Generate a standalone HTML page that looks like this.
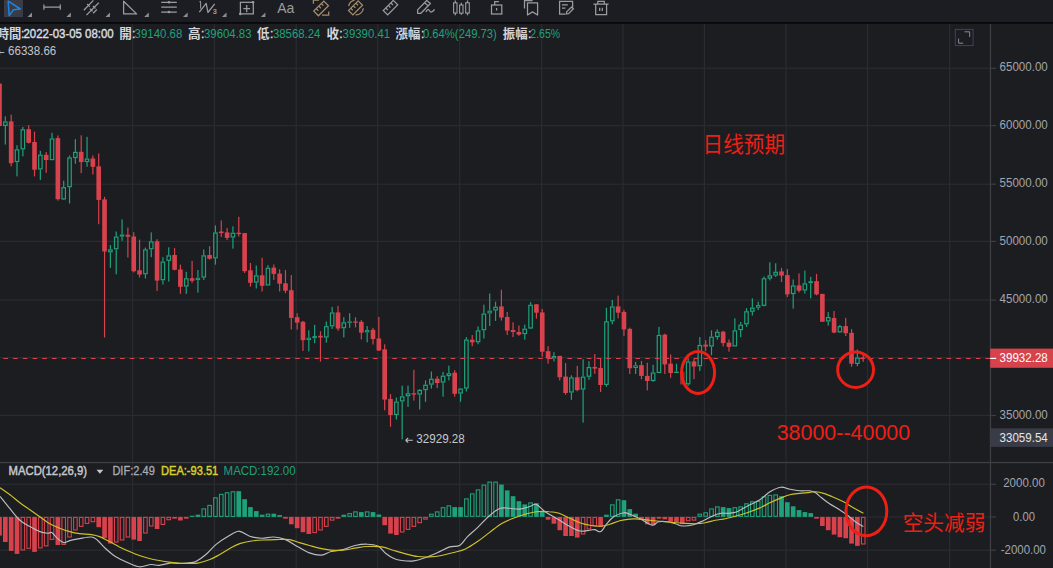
<!DOCTYPE html>
<html><head><meta charset="utf-8"><title>chart</title><style>html,body{margin:0;padding:0;background:#1b1d21;width:1053px;height:568px;overflow:hidden}</style></head><body><svg width="1053" height="568" viewBox="0 0 1053 568" style="display:block;font-family:'Liberation Sans',sans-serif">
<rect width="1053" height="568" fill="#1b1d21"/>
<rect x="132.00" y="24" width="1.2" height="544" fill="#2a2c31"/>
<rect x="213.80" y="24" width="1.2" height="544" fill="#2a2c31"/>
<rect x="295.60" y="24" width="1.2" height="544" fill="#2a2c31"/>
<rect x="377.10" y="24" width="1.2" height="544" fill="#2a2c31"/>
<rect x="459.10" y="24" width="1.2" height="544" fill="#2a2c31"/>
<rect x="541.10" y="24" width="1.2" height="544" fill="#2a2c31"/>
<rect x="622.30" y="24" width="1.2" height="544" fill="#2a2c31"/>
<rect x="703.80" y="24" width="1.2" height="544" fill="#2a2c31"/>
<rect x="785.50" y="24" width="1.2" height="544" fill="#2a2c31"/>
<rect x="866.90" y="24" width="1.2" height="544" fill="#2a2c31"/>
<rect x="949.10" y="24" width="1.2" height="544" fill="#2a2c31"/>
<rect x="0" y="67.70" width="990.5" height="1.2" fill="#2a2c31"/>
<rect x="990.5" y="67.70" width="5.5" height="1.2" fill="#3d3f46"/>
<rect x="0" y="125.10" width="990.5" height="1.2" fill="#2a2c31"/>
<rect x="990.5" y="125.10" width="5.5" height="1.2" fill="#3d3f46"/>
<rect x="0" y="183.60" width="990.5" height="1.2" fill="#2a2c31"/>
<rect x="990.5" y="183.60" width="5.5" height="1.2" fill="#3d3f46"/>
<rect x="0" y="240.80" width="990.5" height="1.2" fill="#2a2c31"/>
<rect x="990.5" y="240.80" width="5.5" height="1.2" fill="#3d3f46"/>
<rect x="0" y="299.50" width="990.5" height="1.2" fill="#2a2c31"/>
<rect x="990.5" y="299.50" width="5.5" height="1.2" fill="#3d3f46"/>
<rect x="0" y="357.00" width="990.5" height="1.2" fill="#2a2c31"/>
<rect x="990.5" y="357.00" width="5.5" height="1.2" fill="#3d3f46"/>
<rect x="0" y="414.90" width="990.5" height="1.2" fill="#2a2c31"/>
<rect x="990.5" y="414.90" width="5.5" height="1.2" fill="#3d3f46"/>
<rect x="0" y="483.70" width="990.5" height="1.2" fill="#2a2c31"/>
<rect x="990.5" y="483.70" width="5.5" height="1.2" fill="#3d3f46"/>
<rect x="0" y="516.40" width="990.5" height="1.2" fill="#2a2c31"/>
<rect x="990.5" y="516.40" width="5.5" height="1.2" fill="#3d3f46"/>
<rect x="0" y="549.60" width="990.5" height="1.2" fill="#2a2c31"/>
<rect x="990.5" y="549.60" width="5.5" height="1.2" fill="#3d3f46"/>
<rect x="989.8" y="24" width="1.3" height="544" fill="#3d3f46"/>
<rect x="0" y="461.9" width="1053" height="1.3" fill="#3d3f46"/>
<g id="candles">
<g fill="#d7424d"><rect x="-1.10" y="83.6" width="1.2" height="42.4"/><rect x="-2.83" y="83.6" width="4.65" height="42.4"/></g>
<rect x="4.74" y="116.4" width="1.2" height="5.0" fill="#1fa27c"/><rect x="4.74" y="126.0" width="1.2" height="18.6" fill="#1fa27c"/><rect x="3.61" y="122.0" width="3.45" height="3.4" fill="none" stroke="#1fa27c" stroke-width="1.2"/>
<g fill="#d7424d"><rect x="10.57" y="114.7" width="1.2" height="51.7"/><rect x="8.85" y="121.4" width="4.65" height="41.8"/></g>
<rect x="16.41" y="145.2" width="1.2" height="4.1" fill="#1fa27c"/><rect x="16.41" y="162.1" width="1.2" height="14.3" fill="#1fa27c"/><rect x="15.28" y="149.9" width="3.45" height="11.6" fill="none" stroke="#1fa27c" stroke-width="1.2"/>
<rect x="22.24" y="127.0" width="1.2" height="2.2" fill="#1fa27c"/><rect x="22.24" y="149.4" width="1.2" height="7.0" fill="#1fa27c"/><rect x="21.12" y="129.8" width="3.45" height="19.0" fill="none" stroke="#1fa27c" stroke-width="1.2"/>
<g fill="#d7424d"><rect x="28.08" y="125.2" width="1.2" height="18.3"/><rect x="26.36" y="129.2" width="4.65" height="13.6"/></g>
<g fill="#d7424d"><rect x="33.92" y="131.6" width="1.2" height="44.8"/><rect x="32.19" y="142.0" width="4.65" height="27.7"/></g>
<rect x="39.75" y="150.8" width="1.2" height="3.8" fill="#1fa27c"/><rect x="39.75" y="169.5" width="1.2" height="10.4" fill="#1fa27c"/><rect x="38.63" y="155.2" width="3.45" height="13.7" fill="none" stroke="#1fa27c" stroke-width="1.2"/>
<g fill="#d7424d"><rect x="45.59" y="152.0" width="1.2" height="20.8"/><rect x="43.86" y="154.8" width="4.65" height="5.2"/></g>
<rect x="51.42" y="132.8" width="1.2" height="5.6" fill="#1fa27c"/><rect x="50.30" y="139.0" width="3.45" height="20.6" fill="none" stroke="#1fa27c" stroke-width="1.2"/>
<g fill="#d7424d"><rect x="57.26" y="135.5" width="1.2" height="65.1"/><rect x="55.53" y="138.1" width="4.65" height="61.1"/></g>
<rect x="63.10" y="180.6" width="1.2" height="6.5" fill="#1fa27c"/><rect x="63.10" y="199.5" width="1.2" height="0.5" fill="#1fa27c"/><rect x="61.97" y="187.7" width="3.45" height="11.2" fill="none" stroke="#1fa27c" stroke-width="1.2"/>
<rect x="68.93" y="155.5" width="1.2" height="1.9" fill="#1fa27c"/><rect x="68.93" y="187.3" width="1.2" height="16.2" fill="#1fa27c"/><rect x="67.81" y="158.0" width="3.45" height="28.7" fill="none" stroke="#1fa27c" stroke-width="1.2"/>
<rect x="74.77" y="139.2" width="1.2" height="12.6" fill="#1fa27c"/><rect x="74.77" y="158.1" width="1.2" height="5.7" fill="#1fa27c"/><rect x="73.64" y="152.4" width="3.45" height="5.1" fill="none" stroke="#1fa27c" stroke-width="1.2"/>
<g fill="#d7424d"><rect x="80.60" y="135.3" width="1.2" height="37.9"/><rect x="78.88" y="151.8" width="4.65" height="10.3"/></g>
<rect x="86.44" y="136.8" width="1.2" height="21.7" fill="#1fa27c"/><rect x="86.44" y="162.1" width="1.2" height="4.7" fill="#1fa27c"/><rect x="85.31" y="159.1" width="3.45" height="2.4" fill="none" stroke="#1fa27c" stroke-width="1.2"/>
<g fill="#d7424d"><rect x="92.28" y="155.5" width="1.2" height="19.0"/><rect x="90.55" y="158.5" width="4.65" height="8.3"/></g>
<g fill="#d7424d"><rect x="98.11" y="153.4" width="1.2" height="70.8"/><rect x="96.39" y="166.4" width="4.65" height="33.5"/></g>
<g fill="#d7424d"><rect x="103.95" y="196.8" width="1.2" height="140.7"/><rect x="102.22" y="199.4" width="4.65" height="52.1"/></g>
<rect x="109.78" y="245.0" width="1.2" height="4.3" fill="#1fa27c"/><rect x="109.78" y="252.4" width="1.2" height="15.4" fill="#1fa27c"/><rect x="108.66" y="249.9" width="3.45" height="1.9" fill="none" stroke="#1fa27c" stroke-width="1.2"/>
<rect x="115.62" y="231.5" width="1.2" height="5.0" fill="#1fa27c"/><rect x="115.62" y="249.3" width="1.2" height="25.0" fill="#1fa27c"/><rect x="114.49" y="237.1" width="3.45" height="11.6" fill="none" stroke="#1fa27c" stroke-width="1.2"/>
<rect x="121.46" y="219.4" width="1.2" height="15.0" fill="#1fa27c"/><rect x="121.46" y="236.7" width="1.2" height="4.1" fill="#1fa27c"/><rect x="120.33" y="235.0" width="3.45" height="1.1" fill="none" stroke="#1fa27c" stroke-width="1.0"/>
<g fill="#d7424d"><rect x="127.29" y="227.6" width="1.2" height="29.9"/><rect x="125.57" y="234.8" width="4.65" height="1.9"/></g>
<g fill="#d7424d"><rect x="133.13" y="232.2" width="1.2" height="40.2"/><rect x="131.40" y="236.5" width="4.65" height="34.7"/></g>
<g fill="#d7424d"><rect x="138.96" y="239.6" width="1.2" height="37.9"/><rect x="137.24" y="270.3" width="4.65" height="4.3"/></g>
<rect x="144.80" y="247.6" width="1.2" height="1.7" fill="#1fa27c"/><rect x="144.80" y="274.3" width="1.2" height="4.2" fill="#1fa27c"/><rect x="143.68" y="249.9" width="3.45" height="23.8" fill="none" stroke="#1fa27c" stroke-width="1.2"/>
<rect x="150.64" y="232.4" width="1.2" height="8.9" fill="#1fa27c"/><rect x="150.64" y="249.3" width="1.2" height="7.9" fill="#1fa27c"/><rect x="149.51" y="241.9" width="3.45" height="6.8" fill="none" stroke="#1fa27c" stroke-width="1.2"/>
<g fill="#d7424d"><rect x="156.47" y="239.2" width="1.2" height="51.7"/><rect x="154.75" y="241.3" width="4.65" height="39.3"/></g>
<rect x="162.31" y="257.2" width="1.2" height="4.3" fill="#1fa27c"/><rect x="162.31" y="280.3" width="1.2" height="4.2" fill="#1fa27c"/><rect x="161.18" y="262.1" width="3.45" height="17.6" fill="none" stroke="#1fa27c" stroke-width="1.2"/>
<rect x="168.14" y="247.3" width="1.2" height="8.0" fill="#1fa27c"/><rect x="168.14" y="260.9" width="1.2" height="20.7" fill="#1fa27c"/><rect x="167.02" y="255.9" width="3.45" height="4.4" fill="none" stroke="#1fa27c" stroke-width="1.2"/>
<g fill="#d7424d"><rect x="173.98" y="248.1" width="1.2" height="22.2"/><rect x="172.26" y="255.0" width="4.65" height="14.8"/></g>
<g fill="#d7424d"><rect x="179.82" y="264.7" width="1.2" height="29.2"/><rect x="178.09" y="269.5" width="4.65" height="17.3"/></g>
<rect x="185.65" y="271.8" width="1.2" height="6.4" fill="#1fa27c"/><rect x="185.65" y="286.6" width="1.2" height="7.3" fill="#1fa27c"/><rect x="184.53" y="278.8" width="3.45" height="7.2" fill="none" stroke="#1fa27c" stroke-width="1.2"/>
<g fill="#d7424d"><rect x="191.49" y="260.9" width="1.2" height="21.9"/><rect x="189.76" y="278.2" width="4.65" height="2.6"/></g>
<rect x="197.32" y="270.0" width="1.2" height="7.6" fill="#1fa27c"/><rect x="197.32" y="280.2" width="1.2" height="12.5" fill="#1fa27c"/><rect x="196.20" y="278.2" width="3.45" height="1.4" fill="none" stroke="#1fa27c" stroke-width="1.0"/>
<rect x="203.16" y="249.5" width="1.2" height="5.8" fill="#1fa27c"/><rect x="203.16" y="277.6" width="1.2" height="2.4" fill="#1fa27c"/><rect x="202.04" y="255.9" width="3.45" height="21.1" fill="none" stroke="#1fa27c" stroke-width="1.2"/>
<g fill="#d7424d"><rect x="209.00" y="246.1" width="1.2" height="13.6"/><rect x="207.27" y="255.0" width="4.65" height="3.7"/></g>
<rect x="214.83" y="225.4" width="1.2" height="7.0" fill="#1fa27c"/><rect x="214.83" y="258.4" width="1.2" height="6.3" fill="#1fa27c"/><rect x="213.71" y="233.0" width="3.45" height="24.8" fill="none" stroke="#1fa27c" stroke-width="1.2"/>
<g fill="#d7424d"><rect x="220.67" y="220.4" width="1.2" height="16.6"/><rect x="218.94" y="231.5" width="4.65" height="1.6"/></g>
<g fill="#d7424d"><rect x="226.50" y="227.9" width="1.2" height="12.2"/><rect x="224.78" y="232.4" width="4.65" height="5.5"/></g>
<rect x="232.34" y="226.4" width="1.2" height="6.3" fill="#1fa27c"/><rect x="232.34" y="237.5" width="1.2" height="11.1" fill="#1fa27c"/><rect x="231.22" y="233.3" width="3.45" height="3.6" fill="none" stroke="#1fa27c" stroke-width="1.2"/>
<g fill="#d7424d"><rect x="238.18" y="216.8" width="1.2" height="19.7"/><rect x="236.45" y="232.7" width="4.65" height="1.4"/></g>
<g fill="#d7424d"><rect x="244.01" y="232.9" width="1.2" height="40.0"/><rect x="242.29" y="233.1" width="4.65" height="38.1"/></g>
<g fill="#d7424d"><rect x="249.85" y="263.0" width="1.2" height="23.6"/><rect x="248.12" y="270.3" width="4.65" height="12.5"/></g>
<rect x="255.68" y="265.5" width="1.2" height="9.8" fill="#1fa27c"/><rect x="255.68" y="282.6" width="1.2" height="5.9" fill="#1fa27c"/><rect x="254.56" y="275.9" width="3.45" height="6.1" fill="none" stroke="#1fa27c" stroke-width="1.2"/>
<g fill="#d7424d"><rect x="261.52" y="257.8" width="1.2" height="33.7"/><rect x="259.80" y="275.3" width="4.65" height="10.5"/></g>
<rect x="267.36" y="265.1" width="1.2" height="2.6" fill="#1fa27c"/><rect x="266.23" y="268.3" width="3.45" height="16.6" fill="none" stroke="#1fa27c" stroke-width="1.2"/>
<g fill="#d7424d"><rect x="273.19" y="264.5" width="1.2" height="15.4"/><rect x="271.47" y="267.6" width="4.65" height="6.3"/></g>
<g fill="#d7424d"><rect x="279.03" y="269.3" width="1.2" height="22.2"/><rect x="277.30" y="273.6" width="4.65" height="10.1"/></g>
<g fill="#d7424d"><rect x="284.86" y="270.0" width="1.2" height="23.2"/><rect x="283.14" y="283.3" width="4.65" height="7.4"/></g>
<g fill="#d7424d"><rect x="290.70" y="275.1" width="1.2" height="54.4"/><rect x="288.98" y="290.2" width="4.65" height="27.7"/></g>
<g fill="#d7424d"><rect x="296.54" y="313.2" width="1.2" height="16.3"/><rect x="294.81" y="317.2" width="4.65" height="5.4"/></g>
<g fill="#d7424d"><rect x="302.37" y="320.9" width="1.2" height="30.0"/><rect x="300.65" y="321.8" width="4.65" height="18.4"/></g>
<rect x="308.21" y="330.3" width="1.2" height="7.3" fill="#1fa27c"/><rect x="308.21" y="340.2" width="1.2" height="11.2" fill="#1fa27c"/><rect x="307.08" y="338.2" width="3.45" height="1.4" fill="none" stroke="#1fa27c" stroke-width="1.0"/>
<rect x="314.04" y="324.9" width="1.2" height="11.1" fill="#1fa27c"/><rect x="314.04" y="338.3" width="1.2" height="5.0" fill="#1fa27c"/><rect x="312.92" y="336.6" width="3.45" height="1.1" fill="none" stroke="#1fa27c" stroke-width="1.0"/>
<g fill="#d7424d"><rect x="319.88" y="331.3" width="1.2" height="30.3"/><rect x="318.16" y="335.8" width="4.65" height="1.7"/></g>
<rect x="325.72" y="321.5" width="1.2" height="4.6" fill="#1fa27c"/><rect x="325.72" y="337.6" width="1.2" height="4.9" fill="#1fa27c"/><rect x="324.59" y="326.7" width="3.45" height="10.3" fill="none" stroke="#1fa27c" stroke-width="1.2"/>
<rect x="331.55" y="306.8" width="1.2" height="5.6" fill="#1fa27c"/><rect x="331.55" y="326.4" width="1.2" height="2.6" fill="#1fa27c"/><rect x="330.43" y="313.0" width="3.45" height="12.8" fill="none" stroke="#1fa27c" stroke-width="1.2"/>
<g fill="#d7424d"><rect x="337.39" y="305.9" width="1.2" height="24.8"/><rect x="335.66" y="312.4" width="4.65" height="16.2"/></g>
<rect x="343.22" y="317.2" width="1.2" height="5.1" fill="#1fa27c"/><rect x="343.22" y="328.3" width="1.2" height="9.1" fill="#1fa27c"/><rect x="342.10" y="322.9" width="3.45" height="4.8" fill="none" stroke="#1fa27c" stroke-width="1.2"/>
<rect x="349.06" y="313.2" width="1.2" height="8.3" fill="#1fa27c"/><rect x="349.06" y="322.6" width="1.2" height="5.2" fill="#1fa27c"/><rect x="347.34" y="321.5" width="4.65" height="1.2" fill="#1fa27c"/>
<g fill="#d7424d"><rect x="354.90" y="317.2" width="1.2" height="10.2"/><rect x="353.17" y="321.5" width="4.65" height="1.2"/></g>
<g fill="#d7424d"><rect x="360.73" y="320.1" width="1.2" height="19.3"/><rect x="359.01" y="321.8" width="4.65" height="10.8"/></g>
<rect x="366.57" y="326.1" width="1.2" height="3.9" fill="#1fa27c"/><rect x="366.57" y="332.5" width="1.2" height="9.8" fill="#1fa27c"/><rect x="365.44" y="330.6" width="3.45" height="1.3" fill="none" stroke="#1fa27c" stroke-width="1.0"/>
<g fill="#d7424d"><rect x="372.40" y="327.8" width="1.2" height="16.7"/><rect x="370.68" y="329.8" width="4.65" height="9.2"/></g>
<g fill="#d7424d"><rect x="378.24" y="317.0" width="1.2" height="34.0"/><rect x="376.52" y="338.5" width="4.65" height="12.0"/></g>
<g fill="#d7424d"><rect x="384.08" y="344.3" width="1.2" height="66.0"/><rect x="382.35" y="349.3" width="4.65" height="50.3"/></g>
<g fill="#d7424d"><rect x="389.91" y="394.1" width="1.2" height="32.7"/><rect x="388.19" y="398.9" width="4.65" height="16.1"/></g>
<rect x="395.75" y="397.5" width="1.2" height="4.0" fill="#1fa27c"/><rect x="395.75" y="415.0" width="1.2" height="4.6" fill="#1fa27c"/><rect x="394.62" y="402.1" width="3.45" height="12.3" fill="none" stroke="#1fa27c" stroke-width="1.2"/>
<rect x="401.58" y="385.6" width="1.2" height="10.7" fill="#1fa27c"/><rect x="401.58" y="401.5" width="1.2" height="37.9" fill="#1fa27c"/><rect x="400.46" y="396.9" width="3.45" height="4.0" fill="none" stroke="#1fa27c" stroke-width="1.2"/>
<rect x="407.42" y="385.6" width="1.2" height="7.6" fill="#1fa27c"/><rect x="407.42" y="396.3" width="1.2" height="10.6" fill="#1fa27c"/><rect x="406.30" y="393.8" width="3.45" height="1.9" fill="none" stroke="#1fa27c" stroke-width="1.2"/>
<g fill="#d7424d"><rect x="413.26" y="369.8" width="1.2" height="30.8"/><rect x="411.53" y="393.2" width="4.65" height="1.4"/></g>
<rect x="419.09" y="389.0" width="1.2" height="0.8" fill="#1fa27c"/><rect x="419.09" y="394.6" width="1.2" height="14.9" fill="#1fa27c"/><rect x="417.97" y="390.4" width="3.45" height="3.6" fill="none" stroke="#1fa27c" stroke-width="1.2"/>
<rect x="424.93" y="380.4" width="1.2" height="4.3" fill="#1fa27c"/><rect x="424.93" y="390.2" width="1.2" height="11.6" fill="#1fa27c"/><rect x="423.80" y="385.3" width="3.45" height="4.3" fill="none" stroke="#1fa27c" stroke-width="1.2"/>
<rect x="430.76" y="371.5" width="1.2" height="7.2" fill="#1fa27c"/><rect x="430.76" y="384.7" width="1.2" height="3.9" fill="#1fa27c"/><rect x="429.64" y="379.3" width="3.45" height="4.8" fill="none" stroke="#1fa27c" stroke-width="1.2"/>
<g fill="#d7424d"><rect x="436.60" y="376.2" width="1.2" height="11.9"/><rect x="434.88" y="378.7" width="4.65" height="4.3"/></g>
<rect x="442.44" y="371.9" width="1.2" height="3.7" fill="#1fa27c"/><rect x="442.44" y="382.6" width="1.2" height="14.1" fill="#1fa27c"/><rect x="441.31" y="376.2" width="3.45" height="5.8" fill="none" stroke="#1fa27c" stroke-width="1.2"/>
<rect x="448.27" y="365.6" width="1.2" height="7.6" fill="#1fa27c"/><rect x="448.27" y="376.2" width="1.2" height="4.2" fill="#1fa27c"/><rect x="447.15" y="373.8" width="3.45" height="1.8" fill="none" stroke="#1fa27c" stroke-width="1.2"/>
<g fill="#d7424d"><rect x="454.11" y="370.2" width="1.2" height="26.5"/><rect x="452.38" y="372.7" width="4.65" height="21.1"/></g>
<rect x="459.94" y="388.1" width="1.2" height="0.4" fill="#1fa27c"/><rect x="459.94" y="393.6" width="1.2" height="8.2" fill="#1fa27c"/><rect x="458.82" y="389.1" width="3.45" height="3.9" fill="none" stroke="#1fa27c" stroke-width="1.2"/>
<rect x="465.78" y="337.1" width="1.2" height="2.4" fill="#1fa27c"/><rect x="465.78" y="388.6" width="1.2" height="2.9" fill="#1fa27c"/><rect x="464.66" y="340.1" width="3.45" height="47.9" fill="none" stroke="#1fa27c" stroke-width="1.2"/>
<g fill="#d7424d"><rect x="471.62" y="335.0" width="1.2" height="11.2"/><rect x="469.89" y="339.7" width="4.65" height="2.7"/></g>
<rect x="477.45" y="326.5" width="1.2" height="3.8" fill="#1fa27c"/><rect x="477.45" y="342.3" width="1.2" height="2.0" fill="#1fa27c"/><rect x="476.33" y="330.9" width="3.45" height="10.8" fill="none" stroke="#1fa27c" stroke-width="1.2"/>
<rect x="483.29" y="304.7" width="1.2" height="8.8" fill="#1fa27c"/><rect x="483.29" y="330.3" width="1.2" height="8.2" fill="#1fa27c"/><rect x="482.16" y="314.1" width="3.45" height="15.6" fill="none" stroke="#1fa27c" stroke-width="1.2"/>
<rect x="489.12" y="293.5" width="1.2" height="17.1" fill="#1fa27c"/><rect x="489.12" y="313.5" width="1.2" height="12.5" fill="#1fa27c"/><rect x="488.00" y="311.2" width="3.45" height="1.7" fill="none" stroke="#1fa27c" stroke-width="1.0"/>
<rect x="494.96" y="301.6" width="1.2" height="5.1" fill="#1fa27c"/><rect x="494.96" y="310.6" width="1.2" height="10.3" fill="#1fa27c"/><rect x="493.84" y="307.3" width="3.45" height="2.7" fill="none" stroke="#1fa27c" stroke-width="1.2"/>
<g fill="#d7424d"><rect x="500.80" y="289.8" width="1.2" height="30.8"/><rect x="499.07" y="306.4" width="4.65" height="11.1"/></g>
<g fill="#d7424d"><rect x="506.63" y="312.0" width="1.2" height="22.9"/><rect x="504.91" y="317.0" width="4.65" height="13.6"/></g>
<g fill="#d7424d"><rect x="512.47" y="322.3" width="1.2" height="14.8"/><rect x="510.74" y="330.0" width="4.65" height="2.0"/></g>
<g fill="#d7424d"><rect x="518.30" y="325.5" width="1.2" height="10.3"/><rect x="516.58" y="332.0" width="4.65" height="2.6"/></g>
<rect x="524.14" y="324.7" width="1.2" height="3.9" fill="#1fa27c"/><rect x="524.14" y="334.2" width="1.2" height="5.5" fill="#1fa27c"/><rect x="523.01" y="329.2" width="3.45" height="4.4" fill="none" stroke="#1fa27c" stroke-width="1.2"/>
<rect x="529.98" y="302.1" width="1.2" height="2.6" fill="#1fa27c"/><rect x="529.98" y="328.6" width="1.2" height="0.4" fill="#1fa27c"/><rect x="528.85" y="305.3" width="3.45" height="22.7" fill="none" stroke="#1fa27c" stroke-width="1.2"/>
<g fill="#d7424d"><rect x="535.81" y="304.3" width="1.2" height="14.4"/><rect x="534.09" y="304.3" width="4.65" height="8.4"/></g>
<g fill="#d7424d"><rect x="541.65" y="308.9" width="1.2" height="47.9"/><rect x="539.92" y="312.4" width="4.65" height="39.3"/></g>
<g fill="#d7424d"><rect x="547.48" y="346.2" width="1.2" height="17.4"/><rect x="545.76" y="351.2" width="4.65" height="7.3"/></g>
<rect x="553.32" y="352.2" width="1.2" height="3.7" fill="#1fa27c"/><rect x="553.32" y="358.5" width="1.2" height="2.9" fill="#1fa27c"/><rect x="552.20" y="356.5" width="3.45" height="1.4" fill="none" stroke="#1fa27c" stroke-width="1.0"/>
<g fill="#d7424d"><rect x="559.16" y="355.9" width="1.2" height="24.5"/><rect x="557.43" y="355.9" width="4.65" height="21.3"/></g>
<g fill="#d7424d"><rect x="564.99" y="363.1" width="1.2" height="31.6"/><rect x="563.27" y="376.6" width="4.65" height="16.4"/></g>
<rect x="570.83" y="375.3" width="1.2" height="2.0" fill="#1fa27c"/><rect x="570.83" y="392.6" width="1.2" height="7.2" fill="#1fa27c"/><rect x="569.70" y="377.9" width="3.45" height="14.1" fill="none" stroke="#1fa27c" stroke-width="1.2"/>
<g fill="#d7424d"><rect x="576.66" y="365.8" width="1.2" height="25.5"/><rect x="574.94" y="377.3" width="4.65" height="12.8"/></g>
<rect x="582.50" y="359.2" width="1.2" height="17.4" fill="#1fa27c"/><rect x="582.50" y="389.6" width="1.2" height="33.0" fill="#1fa27c"/><rect x="581.38" y="377.2" width="3.45" height="11.8" fill="none" stroke="#1fa27c" stroke-width="1.2"/>
<rect x="588.34" y="361.2" width="1.2" height="5.8" fill="#1fa27c"/><rect x="588.34" y="376.8" width="1.2" height="3.1" fill="#1fa27c"/><rect x="587.21" y="367.6" width="3.45" height="8.6" fill="none" stroke="#1fa27c" stroke-width="1.2"/>
<g fill="#d7424d"><rect x="594.17" y="354.0" width="1.2" height="19.8"/><rect x="592.45" y="367.0" width="4.65" height="1.6"/></g>
<g fill="#d7424d"><rect x="600.01" y="358.2" width="1.2" height="33.9"/><rect x="598.28" y="367.9" width="4.65" height="17.1"/></g>
<rect x="605.84" y="307.7" width="1.2" height="13.5" fill="#1fa27c"/><rect x="605.84" y="385.0" width="1.2" height="1.7" fill="#1fa27c"/><rect x="604.72" y="321.8" width="3.45" height="62.6" fill="none" stroke="#1fa27c" stroke-width="1.2"/>
<rect x="611.68" y="300.0" width="1.2" height="6.4" fill="#1fa27c"/><rect x="611.68" y="321.4" width="1.2" height="2.9" fill="#1fa27c"/><rect x="610.56" y="307.0" width="3.45" height="13.8" fill="none" stroke="#1fa27c" stroke-width="1.2"/>
<g fill="#d7424d"><rect x="617.52" y="295.6" width="1.2" height="22.7"/><rect x="615.79" y="306.4" width="4.65" height="6.3"/></g>
<g fill="#d7424d"><rect x="623.35" y="309.8" width="1.2" height="26.1"/><rect x="621.63" y="312.0" width="4.65" height="17.4"/></g>
<g fill="#d7424d"><rect x="629.19" y="327.7" width="1.2" height="46.3"/><rect x="627.46" y="328.9" width="4.65" height="39.3"/></g>
<rect x="635.02" y="361.9" width="1.2" height="3.3" fill="#1fa27c"/><rect x="635.02" y="368.1" width="1.2" height="5.9" fill="#1fa27c"/><rect x="633.90" y="365.8" width="3.45" height="1.7" fill="none" stroke="#1fa27c" stroke-width="1.0"/>
<g fill="#d7424d"><rect x="640.86" y="360.9" width="1.2" height="18.4"/><rect x="639.13" y="365.1" width="4.65" height="10.8"/></g>
<g fill="#d7424d"><rect x="646.70" y="362.7" width="1.2" height="27.7"/><rect x="644.97" y="375.9" width="4.65" height="5.1"/></g>
<rect x="652.53" y="364.8" width="1.2" height="7.7" fill="#1fa27c"/><rect x="652.53" y="381.0" width="1.2" height="0.8" fill="#1fa27c"/><rect x="651.41" y="373.1" width="3.45" height="7.3" fill="none" stroke="#1fa27c" stroke-width="1.2"/>
<rect x="658.37" y="326.9" width="1.2" height="8.0" fill="#1fa27c"/><rect x="658.37" y="373.0" width="1.2" height="0.3" fill="#1fa27c"/><rect x="657.24" y="335.5" width="3.45" height="36.9" fill="none" stroke="#1fa27c" stroke-width="1.2"/>
<g fill="#d7424d"><rect x="664.20" y="333.7" width="1.2" height="40.3"/><rect x="662.48" y="334.6" width="4.65" height="29.8"/></g>
<g fill="#d7424d"><rect x="670.04" y="354.5" width="1.2" height="23.3"/><rect x="668.31" y="363.7" width="4.65" height="9.3"/></g>
<rect x="675.88" y="363.7" width="1.2" height="8.0" fill="#1fa27c"/><rect x="674.15" y="371.7" width="4.65" height="1.3" fill="#1fa27c"/>
<g fill="#d7424d" opacity="0.55"><rect x="681.71" y="371.6" width="1.2" height="12.8"/><rect x="679.99" y="371.6" width="4.65" height="12.8"/></g>
<rect x="687.55" y="359.0" width="1.2" height="2.4" fill="#1fa27c"/><rect x="687.55" y="384.4" width="1.2" height="1.4" fill="#1fa27c"/><rect x="686.42" y="362.0" width="3.45" height="21.8" fill="none" stroke="#1fa27c" stroke-width="1.2"/>
<g fill="#d7424d"><rect x="693.38" y="359.0" width="1.2" height="20.2"/><rect x="691.66" y="361.4" width="4.65" height="5.1"/></g>
<rect x="699.22" y="337.1" width="1.2" height="7.8" fill="#1fa27c"/><rect x="699.22" y="366.3" width="1.2" height="4.7" fill="#1fa27c"/><rect x="698.10" y="345.5" width="3.45" height="20.2" fill="none" stroke="#1fa27c" stroke-width="1.2"/>
<g fill="#d7424d"><rect x="705.06" y="340.2" width="1.2" height="11.0"/><rect x="703.33" y="344.6" width="4.65" height="2.0"/></g>
<rect x="710.89" y="330.3" width="1.2" height="6.3" fill="#1fa27c"/><rect x="710.89" y="346.6" width="1.2" height="8.6" fill="#1fa27c"/><rect x="709.77" y="337.2" width="3.45" height="8.8" fill="none" stroke="#1fa27c" stroke-width="1.2"/>
<rect x="716.73" y="329.4" width="1.2" height="2.3" fill="#1fa27c"/><rect x="716.73" y="337.1" width="1.2" height="2.6" fill="#1fa27c"/><rect x="715.60" y="332.3" width="3.45" height="4.2" fill="none" stroke="#1fa27c" stroke-width="1.2"/>
<g fill="#d7424d"><rect x="722.56" y="330.8" width="1.2" height="15.7"/><rect x="720.84" y="331.7" width="4.65" height="11.4"/></g>
<g fill="#d7424d"><rect x="728.40" y="339.4" width="1.2" height="12.3"/><rect x="726.67" y="342.6" width="4.65" height="4.3"/></g>
<rect x="734.24" y="318.3" width="1.2" height="12.0" fill="#1fa27c"/><rect x="733.11" y="330.9" width="3.45" height="15.0" fill="none" stroke="#1fa27c" stroke-width="1.2"/>
<rect x="740.07" y="322.0" width="1.2" height="2.6" fill="#1fa27c"/><rect x="740.07" y="330.2" width="1.2" height="7.0" fill="#1fa27c"/><rect x="738.95" y="325.2" width="3.45" height="4.4" fill="none" stroke="#1fa27c" stroke-width="1.2"/>
<rect x="745.91" y="308.2" width="1.2" height="3.0" fill="#1fa27c"/><rect x="745.91" y="324.4" width="1.2" height="2.5" fill="#1fa27c"/><rect x="744.78" y="311.8" width="3.45" height="12.0" fill="none" stroke="#1fa27c" stroke-width="1.2"/>
<rect x="751.74" y="298.3" width="1.2" height="9.3" fill="#1fa27c"/><rect x="751.74" y="311.8" width="1.2" height="3.8" fill="#1fa27c"/><rect x="750.62" y="308.2" width="3.45" height="3.0" fill="none" stroke="#1fa27c" stroke-width="1.2"/>
<rect x="757.58" y="301.7" width="1.2" height="3.3" fill="#1fa27c"/><rect x="757.58" y="307.8" width="1.2" height="2.2" fill="#1fa27c"/><rect x="756.46" y="305.6" width="3.45" height="1.6" fill="none" stroke="#1fa27c" stroke-width="1.0"/>
<rect x="763.42" y="276.5" width="1.2" height="1.7" fill="#1fa27c"/><rect x="763.42" y="305.9" width="1.2" height="0.5" fill="#1fa27c"/><rect x="762.29" y="278.8" width="3.45" height="26.5" fill="none" stroke="#1fa27c" stroke-width="1.2"/>
<rect x="769.25" y="262.3" width="1.2" height="13.0" fill="#1fa27c"/><rect x="769.25" y="278.7" width="1.2" height="1.7" fill="#1fa27c"/><rect x="768.13" y="275.9" width="3.45" height="2.2" fill="none" stroke="#1fa27c" stroke-width="1.2"/>
<rect x="775.09" y="263.3" width="1.2" height="8.4" fill="#1fa27c"/><rect x="775.09" y="275.6" width="1.2" height="1.4" fill="#1fa27c"/><rect x="773.96" y="272.3" width="3.45" height="2.7" fill="none" stroke="#1fa27c" stroke-width="1.2"/>
<g fill="#d7424d"><rect x="780.92" y="267.9" width="1.2" height="14.1"/><rect x="779.20" y="271.4" width="4.65" height="4.2"/></g>
<g fill="#d7424d"><rect x="786.76" y="269.1" width="1.2" height="27.9"/><rect x="785.03" y="275.1" width="4.65" height="19.3"/></g>
<rect x="792.60" y="279.4" width="1.2" height="6.0" fill="#1fa27c"/><rect x="792.60" y="294.1" width="1.2" height="14.5" fill="#1fa27c"/><rect x="791.47" y="286.0" width="3.45" height="7.5" fill="none" stroke="#1fa27c" stroke-width="1.2"/>
<g fill="#d7424d"><rect x="798.43" y="273.4" width="1.2" height="19.0"/><rect x="796.71" y="285.4" width="4.65" height="5.3"/></g>
<rect x="804.27" y="270.5" width="1.2" height="12.8" fill="#1fa27c"/><rect x="804.27" y="290.5" width="1.2" height="3.1" fill="#1fa27c"/><rect x="803.14" y="283.9" width="3.45" height="6.0" fill="none" stroke="#1fa27c" stroke-width="1.2"/>
<rect x="810.10" y="276.8" width="1.2" height="4.3" fill="#1fa27c"/><rect x="810.10" y="283.3" width="1.2" height="15.1" fill="#1fa27c"/><rect x="808.98" y="281.7" width="3.45" height="1.0" fill="none" stroke="#1fa27c" stroke-width="1.0"/>
<g fill="#d7424d"><rect x="815.94" y="273.9" width="1.2" height="21.4"/><rect x="814.22" y="281.1" width="4.65" height="13.3"/></g>
<g fill="#d7424d"><rect x="821.78" y="293.9" width="1.2" height="27.9"/><rect x="820.05" y="293.9" width="4.65" height="27.9"/></g>
<rect x="827.61" y="312.1" width="1.2" height="4.9" fill="#1fa27c"/><rect x="827.61" y="321.5" width="1.2" height="4.2" fill="#1fa27c"/><rect x="826.49" y="317.6" width="3.45" height="3.3" fill="none" stroke="#1fa27c" stroke-width="1.2"/>
<g fill="#d7424d"><rect x="833.45" y="311.0" width="1.2" height="22.2"/><rect x="831.72" y="318.0" width="4.65" height="14.6"/></g>
<rect x="839.28" y="324.9" width="1.2" height="1.2" fill="#1fa27c"/><rect x="839.28" y="332.4" width="1.2" height="0.5" fill="#1fa27c"/><rect x="838.16" y="326.7" width="3.45" height="5.1" fill="none" stroke="#1fa27c" stroke-width="1.2"/>
<g fill="#d7424d"><rect x="845.12" y="317.9" width="1.2" height="18.1"/><rect x="843.39" y="326.1" width="4.65" height="7.1"/></g>
<g fill="#d7424d"><rect x="850.96" y="329.1" width="1.2" height="37.7"/><rect x="849.23" y="332.8" width="4.65" height="30.9"/></g>
<rect x="856.79" y="349.5" width="1.2" height="8.0" fill="#1fa27c"/><rect x="856.79" y="364.0" width="1.2" height="2.2" fill="#1fa27c"/><rect x="855.67" y="358.1" width="3.45" height="5.3" fill="none" stroke="#1fa27c" stroke-width="1.2"/>
<g fill="#d7424d"><rect x="862.63" y="355.0" width="1.2" height="6.9"/><rect x="860.90" y="357.5" width="4.65" height="1.2"/></g>
</g>
<line x1="3.4" y1="358.4" x2="990" y2="358.4" stroke="#d9434e" stroke-width="1.05" stroke-dasharray="4.6 5.124"/>
<g id="macd">
<rect x="-2.83" y="516.9" width="4.65" height="18.7" fill="#d7424d"/>
<rect x="3.01" y="516.9" width="4.65" height="25.1" fill="#d7424d"/>
<rect x="8.85" y="516.9" width="4.65" height="34.0" fill="#d7424d"/>
<rect x="14.68" y="516.9" width="4.65" height="37.0" fill="#d7424d"/>
<rect x="21.07" y="517.4" width="3.55" height="32.5" fill="none" stroke="#d7424d" stroke-width="1.1"/>
<rect x="26.91" y="517.4" width="3.55" height="30.9" fill="none" stroke="#d7424d" stroke-width="1.1"/>
<rect x="32.19" y="516.9" width="4.65" height="35.0" fill="#d7424d"/>
<rect x="38.58" y="517.4" width="3.55" height="30.5" fill="none" stroke="#d7424d" stroke-width="1.1"/>
<rect x="44.41" y="517.4" width="3.55" height="28.5" fill="none" stroke="#d7424d" stroke-width="1.1"/>
<rect x="50.25" y="517.4" width="3.55" height="22.0" fill="none" stroke="#d7424d" stroke-width="1.1"/>
<rect x="55.53" y="516.9" width="4.65" height="28.1" fill="#d7424d"/>
<rect x="61.92" y="517.4" width="3.55" height="27.0" fill="none" stroke="#d7424d" stroke-width="1.1"/>
<rect x="67.76" y="517.4" width="3.55" height="19.6" fill="none" stroke="#d7424d" stroke-width="1.1"/>
<rect x="73.59" y="517.4" width="3.55" height="12.6" fill="none" stroke="#d7424d" stroke-width="1.1"/>
<rect x="79.43" y="517.4" width="3.55" height="9.0" fill="none" stroke="#d7424d" stroke-width="1.1"/>
<rect x="85.27" y="517.4" width="3.55" height="6.0" fill="none" stroke="#d7424d" stroke-width="1.1"/>
<rect x="91.10" y="517.4" width="3.55" height="4.3" fill="none" stroke="#d7424d" stroke-width="1.1"/>
<rect x="96.39" y="516.9" width="4.65" height="10.3" fill="#d7424d"/>
<rect x="102.22" y="516.9" width="4.65" height="21.3" fill="#d7424d"/>
<rect x="108.06" y="516.9" width="4.65" height="26.7" fill="#d7424d"/>
<rect x="114.44" y="517.4" width="3.55" height="24.6" fill="none" stroke="#d7424d" stroke-width="1.1"/>
<rect x="120.28" y="517.4" width="3.55" height="22.6" fill="none" stroke="#d7424d" stroke-width="1.1"/>
<rect x="126.12" y="517.4" width="3.55" height="19.6" fill="none" stroke="#d7424d" stroke-width="1.1"/>
<rect x="131.40" y="516.9" width="4.65" height="22.7" fill="#d7424d"/>
<rect x="137.24" y="516.9" width="4.65" height="24.1" fill="#d7424d"/>
<rect x="143.63" y="517.4" width="3.55" height="15.6" fill="none" stroke="#d7424d" stroke-width="1.1"/>
<rect x="149.46" y="517.4" width="3.55" height="8.6" fill="none" stroke="#d7424d" stroke-width="1.1"/>
<rect x="154.75" y="516.9" width="4.65" height="12.1" fill="#d7424d"/>
<rect x="161.13" y="517.4" width="3.55" height="7.0" fill="none" stroke="#d7424d" stroke-width="1.1"/>
<rect x="166.97" y="517.4" width="3.55" height="2.3" fill="none" stroke="#d7424d" stroke-width="1.1"/>
<rect x="172.26" y="516.9" width="4.65" height="1.8" fill="#d7424d"/>
<rect x="178.09" y="516.9" width="4.65" height="3.6" fill="#d7424d"/>
<rect x="183.93" y="516.9" width="4.65" height="1.8" fill="#d7424d"/>
<rect x="189.76" y="515.7" width="4.65" height="1.2" fill="#1fa27c"/>
<rect x="195.60" y="514.7" width="4.65" height="2.2" fill="#1fa27c"/>
<rect x="201.99" y="508.9" width="3.55" height="7.5" fill="none" stroke="#1fa27c" stroke-width="1.1"/>
<rect x="207.82" y="505.4" width="3.55" height="11.0" fill="none" stroke="#1fa27c" stroke-width="1.1"/>
<rect x="213.66" y="497.8" width="3.55" height="18.6" fill="none" stroke="#1fa27c" stroke-width="1.1"/>
<rect x="219.49" y="494.4" width="3.55" height="22.0" fill="none" stroke="#1fa27c" stroke-width="1.1"/>
<rect x="225.33" y="492.8" width="3.55" height="23.6" fill="none" stroke="#1fa27c" stroke-width="1.1"/>
<rect x="231.17" y="491.8" width="3.55" height="24.6" fill="none" stroke="#1fa27c" stroke-width="1.1"/>
<rect x="236.45" y="491.2" width="4.65" height="25.7" fill="#1fa27c"/>
<rect x="242.29" y="499.2" width="4.65" height="17.7" fill="#1fa27c"/>
<rect x="248.12" y="507.1" width="4.65" height="9.8" fill="#1fa27c"/>
<rect x="253.96" y="511.1" width="4.65" height="5.8" fill="#1fa27c"/>
<rect x="259.80" y="514.7" width="4.65" height="2.2" fill="#1fa27c"/>
<rect x="266.18" y="514.2" width="3.55" height="2.1" fill="none" stroke="#1fa27c" stroke-width="1.1"/>
<rect x="271.47" y="513.7" width="4.65" height="3.2" fill="#1fa27c"/>
<rect x="277.30" y="515.1" width="4.65" height="1.8" fill="#1fa27c"/>
<rect x="283.14" y="516.9" width="4.65" height="1.8" fill="#d7424d"/>
<rect x="288.98" y="516.9" width="4.65" height="7.4" fill="#d7424d"/>
<rect x="294.81" y="516.9" width="4.65" height="11.3" fill="#d7424d"/>
<rect x="300.65" y="516.9" width="4.65" height="15.3" fill="#d7424d"/>
<rect x="306.48" y="516.9" width="4.65" height="17.1" fill="#d7424d"/>
<rect x="312.87" y="517.4" width="3.55" height="15.2" fill="none" stroke="#d7424d" stroke-width="1.1"/>
<rect x="318.71" y="517.4" width="3.55" height="12.6" fill="none" stroke="#d7424d" stroke-width="1.1"/>
<rect x="324.54" y="517.4" width="3.55" height="9.0" fill="none" stroke="#d7424d" stroke-width="1.1"/>
<rect x="330.38" y="517.4" width="3.55" height="2.7" fill="none" stroke="#d7424d" stroke-width="1.1"/>
<rect x="335.66" y="516.9" width="4.65" height="1.8" fill="#d7424d"/>
<rect x="341.50" y="514.7" width="4.65" height="2.2" fill="#1fa27c"/>
<rect x="347.89" y="513.6" width="3.55" height="2.7" fill="none" stroke="#1fa27c" stroke-width="1.1"/>
<rect x="353.72" y="511.9" width="3.55" height="4.5" fill="none" stroke="#1fa27c" stroke-width="1.1"/>
<rect x="359.01" y="512.1" width="4.65" height="4.8" fill="#1fa27c"/>
<rect x="365.39" y="511.9" width="3.55" height="4.5" fill="none" stroke="#1fa27c" stroke-width="1.1"/>
<rect x="370.68" y="512.1" width="4.65" height="4.8" fill="#1fa27c"/>
<rect x="376.52" y="514.5" width="4.65" height="2.4" fill="#1fa27c"/>
<rect x="382.35" y="516.9" width="4.65" height="8.3" fill="#d7424d"/>
<rect x="388.19" y="516.9" width="4.65" height="16.7" fill="#d7424d"/>
<rect x="394.02" y="516.9" width="4.65" height="18.1" fill="#d7424d"/>
<rect x="400.41" y="517.4" width="3.55" height="14.6" fill="none" stroke="#d7424d" stroke-width="1.1"/>
<rect x="406.25" y="517.4" width="3.55" height="12.0" fill="none" stroke="#d7424d" stroke-width="1.1"/>
<rect x="412.08" y="517.4" width="3.55" height="9.0" fill="none" stroke="#d7424d" stroke-width="1.1"/>
<rect x="417.92" y="517.4" width="3.55" height="5.3" fill="none" stroke="#d7424d" stroke-width="1.1"/>
<rect x="423.75" y="517.4" width="3.55" height="1.7" fill="none" stroke="#d7424d" stroke-width="1.1"/>
<rect x="429.59" y="514.2" width="3.55" height="2.1" fill="none" stroke="#1fa27c" stroke-width="1.1"/>
<rect x="435.43" y="511.9" width="3.55" height="4.5" fill="none" stroke="#1fa27c" stroke-width="1.1"/>
<rect x="441.26" y="507.7" width="3.55" height="8.7" fill="none" stroke="#1fa27c" stroke-width="1.1"/>
<rect x="447.10" y="505.9" width="3.55" height="10.5" fill="none" stroke="#1fa27c" stroke-width="1.1"/>
<rect x="452.38" y="507.1" width="4.65" height="9.8" fill="#1fa27c"/>
<rect x="458.22" y="507.1" width="4.65" height="9.8" fill="#1fa27c"/>
<rect x="464.61" y="498.9" width="3.55" height="17.4" fill="none" stroke="#1fa27c" stroke-width="1.1"/>
<rect x="470.44" y="493.9" width="3.55" height="22.4" fill="none" stroke="#1fa27c" stroke-width="1.1"/>
<rect x="476.28" y="489.9" width="3.55" height="26.4" fill="none" stroke="#1fa27c" stroke-width="1.1"/>
<rect x="482.11" y="485.1" width="3.55" height="31.3" fill="none" stroke="#1fa27c" stroke-width="1.1"/>
<rect x="487.95" y="482.1" width="3.55" height="34.3" fill="none" stroke="#1fa27c" stroke-width="1.1"/>
<rect x="493.79" y="482.1" width="3.55" height="34.3" fill="none" stroke="#1fa27c" stroke-width="1.1"/>
<rect x="499.07" y="484.5" width="4.65" height="32.4" fill="#1fa27c"/>
<rect x="504.91" y="490.4" width="4.65" height="26.5" fill="#1fa27c"/>
<rect x="510.74" y="496.2" width="4.65" height="20.7" fill="#1fa27c"/>
<rect x="516.58" y="501.2" width="4.65" height="15.7" fill="#1fa27c"/>
<rect x="522.41" y="504.4" width="4.65" height="12.5" fill="#1fa27c"/>
<rect x="528.80" y="502.9" width="3.55" height="13.4" fill="none" stroke="#1fa27c" stroke-width="1.1"/>
<rect x="534.09" y="503.2" width="4.65" height="13.7" fill="#1fa27c"/>
<rect x="539.92" y="511.3" width="4.65" height="5.6" fill="#1fa27c"/>
<rect x="545.76" y="516.9" width="4.65" height="2.8" fill="#d7424d"/>
<rect x="551.60" y="516.9" width="4.65" height="6.8" fill="#d7424d"/>
<rect x="557.43" y="516.9" width="4.65" height="13.3" fill="#d7424d"/>
<rect x="563.27" y="516.9" width="4.65" height="19.1" fill="#d7424d"/>
<rect x="569.10" y="516.9" width="4.65" height="19.1" fill="#d7424d"/>
<rect x="574.94" y="516.9" width="4.65" height="20.7" fill="#d7424d"/>
<rect x="581.32" y="517.4" width="3.55" height="16.6" fill="none" stroke="#d7424d" stroke-width="1.1"/>
<rect x="587.16" y="517.4" width="3.55" height="11.6" fill="none" stroke="#d7424d" stroke-width="1.1"/>
<rect x="593.00" y="517.4" width="3.55" height="8.6" fill="none" stroke="#d7424d" stroke-width="1.1"/>
<rect x="598.28" y="516.9" width="4.65" height="10.1" fill="#d7424d"/>
<rect x="604.12" y="514.7" width="4.65" height="2.2" fill="#1fa27c"/>
<rect x="610.50" y="504.9" width="3.55" height="11.4" fill="none" stroke="#1fa27c" stroke-width="1.1"/>
<rect x="616.34" y="499.8" width="3.55" height="16.6" fill="none" stroke="#1fa27c" stroke-width="1.1"/>
<rect x="621.63" y="500.2" width="4.65" height="16.7" fill="#1fa27c"/>
<rect x="627.46" y="509.1" width="4.65" height="7.8" fill="#1fa27c"/>
<rect x="633.30" y="513.7" width="4.65" height="3.2" fill="#1fa27c"/>
<rect x="639.13" y="516.9" width="4.65" height="2.8" fill="#d7424d"/>
<rect x="644.97" y="516.9" width="4.65" height="7.4" fill="#d7424d"/>
<rect x="650.81" y="516.9" width="4.65" height="8.1" fill="#d7424d"/>
<rect x="656.64" y="516.9" width="4.65" height="1.8" fill="#d7424d"/>
<rect x="662.48" y="516.9" width="4.65" height="2.4" fill="#d7424d"/>
<rect x="668.31" y="516.9" width="4.65" height="4.8" fill="#d7424d"/>
<rect x="674.15" y="516.9" width="4.65" height="5.2" fill="#d7424d"/>
<rect x="679.99" y="516.9" width="4.65" height="7.2" fill="#d7424d"/>
<rect x="686.37" y="517.4" width="3.55" height="3.3" fill="none" stroke="#d7424d" stroke-width="1.1"/>
<rect x="692.21" y="517.4" width="3.55" height="2.7" fill="none" stroke="#d7424d" stroke-width="1.1"/>
<rect x="698.04" y="514.2" width="3.55" height="2.1" fill="none" stroke="#1fa27c" stroke-width="1.1"/>
<rect x="703.88" y="512.8" width="3.55" height="3.5" fill="none" stroke="#1fa27c" stroke-width="1.1"/>
<rect x="709.72" y="508.9" width="3.55" height="7.5" fill="none" stroke="#1fa27c" stroke-width="1.1"/>
<rect x="715.55" y="506.9" width="3.55" height="9.5" fill="none" stroke="#1fa27c" stroke-width="1.1"/>
<rect x="720.84" y="507.1" width="4.65" height="9.8" fill="#1fa27c"/>
<rect x="726.67" y="508.1" width="4.65" height="8.8" fill="#1fa27c"/>
<rect x="733.06" y="507.7" width="3.55" height="8.7" fill="none" stroke="#1fa27c" stroke-width="1.1"/>
<rect x="738.90" y="506.9" width="3.55" height="9.5" fill="none" stroke="#1fa27c" stroke-width="1.1"/>
<rect x="744.73" y="503.8" width="3.55" height="12.6" fill="none" stroke="#1fa27c" stroke-width="1.1"/>
<rect x="750.57" y="501.8" width="3.55" height="14.6" fill="none" stroke="#1fa27c" stroke-width="1.1"/>
<rect x="756.40" y="501.4" width="3.55" height="15.0" fill="none" stroke="#1fa27c" stroke-width="1.1"/>
<rect x="762.24" y="496.8" width="3.55" height="19.6" fill="none" stroke="#1fa27c" stroke-width="1.1"/>
<rect x="768.08" y="495.4" width="3.55" height="21.0" fill="none" stroke="#1fa27c" stroke-width="1.1"/>
<rect x="773.91" y="494.9" width="3.55" height="21.4" fill="none" stroke="#1fa27c" stroke-width="1.1"/>
<rect x="779.20" y="496.2" width="4.65" height="20.7" fill="#1fa27c"/>
<rect x="785.03" y="502.2" width="4.65" height="14.7" fill="#1fa27c"/>
<rect x="790.87" y="506.3" width="4.65" height="10.6" fill="#1fa27c"/>
<rect x="796.71" y="510.1" width="4.65" height="6.8" fill="#1fa27c"/>
<rect x="802.54" y="512.1" width="4.65" height="4.8" fill="#1fa27c"/>
<rect x="808.38" y="513.1" width="4.65" height="3.8" fill="#1fa27c"/>
<rect x="814.22" y="516.9" width="4.65" height="1.8" fill="#d7424d"/>
<rect x="820.05" y="516.9" width="4.65" height="9.1" fill="#d7424d"/>
<rect x="825.89" y="516.9" width="4.65" height="13.3" fill="#d7424d"/>
<rect x="831.72" y="516.9" width="4.65" height="17.7" fill="#d7424d"/>
<rect x="837.56" y="516.9" width="4.65" height="20.3" fill="#d7424d"/>
<rect x="843.39" y="516.9" width="4.65" height="21.3" fill="#d7424d"/>
<rect x="849.23" y="516.9" width="4.65" height="26.7" fill="#d7424d"/>
<rect x="855.07" y="516.9" width="4.65" height="29.0" fill="#d7424d"/>
<rect x="861.45" y="517.4" width="3.55" height="26.6" fill="none" stroke="#d7424d" stroke-width="1.1"/>
</g>
<path d="M0.0,496.4 C1.7,498.4 6.7,504.7 10.0,508.7 C13.3,512.7 16.6,517.3 19.9,520.3 C23.2,523.3 26.6,524.7 29.9,526.6 C33.2,528.5 36.8,530.5 39.8,531.6 C42.8,532.7 45.8,533.0 47.8,533.2 C49.8,533.4 50.1,531.7 51.7,532.6 C53.4,533.5 55.7,536.9 57.7,538.6 C59.7,540.3 61.7,542.3 63.7,542.6 C65.7,542.9 67.1,541.3 69.7,540.6 C72.3,539.9 76.0,539.2 79.6,538.6 C83.2,538.0 88.5,536.7 91.5,537.0 C94.5,537.3 95.2,538.3 97.5,540.2 C99.8,542.1 102.5,545.8 105.5,548.5 C108.5,551.2 111.8,554.2 115.4,556.5 C119.1,558.8 123.4,560.8 127.4,562.5 C131.4,564.2 135.3,566.5 139.3,566.8 C143.3,567.1 147.9,564.7 151.2,564.5 C154.5,564.3 155.9,565.7 159.2,565.4 C162.5,565.1 167.8,563.2 171.1,562.9 C174.4,562.6 175.8,563.6 179.1,563.5 C182.4,563.4 188.2,562.8 191.0,562.5 C193.8,562.2 193.4,562.8 195.9,561.5 C198.4,560.2 202.6,557.3 205.9,554.5 C209.2,551.7 212.2,547.6 215.8,544.6 C219.5,541.6 224.0,538.8 227.8,536.6 C231.6,534.4 235.0,531.3 238.7,531.2 C242.3,531.1 245.9,535.0 249.7,536.2 C253.5,537.4 257.6,538.1 261.6,538.2 C265.6,538.3 269.5,536.8 273.5,537.0 C277.5,537.2 281.5,538.0 285.5,539.6 C289.5,541.2 293.4,544.3 297.4,546.5 C301.4,548.7 305.4,551.5 309.4,552.9 C313.4,554.3 317.7,555.3 321.3,555.1 C324.9,554.9 327.6,552.4 331.2,551.5 C334.8,550.6 339.2,550.5 343.2,549.5 C347.2,548.5 351.1,546.4 355.1,545.5 C359.1,544.6 363.3,544.1 367.1,544.2 C370.9,544.3 374.9,544.6 378.0,546.1 C381.1,547.6 383.2,551.4 385.9,553.5 C388.5,555.6 391.2,557.3 393.9,558.5 C396.5,559.7 398.5,560.1 401.8,560.5 C405.1,560.9 409.8,561.4 413.8,560.9 C417.8,560.4 421.7,558.9 425.7,557.5 C429.7,556.1 433.7,554.3 437.7,552.5 C441.7,550.7 446.0,548.1 449.6,546.9 C453.2,545.7 456.6,547.2 459.6,545.5 C462.6,543.8 464.5,539.6 467.5,536.6 C470.5,533.6 473.9,531.1 477.5,527.6 C481.1,524.1 485.6,518.9 489.4,515.7 C493.2,512.5 497.0,509.5 500.3,508.3 C503.6,507.1 506.1,508.2 509.3,508.3 C512.5,508.4 516.0,509.4 519.3,509.1 C522.6,508.8 526.4,507.5 529.2,506.7 C532.0,505.9 533.6,503.6 536.2,504.4 C538.9,505.2 541.6,509.3 545.1,511.7 C548.6,514.1 553.0,516.2 557.1,518.7 C561.2,521.2 566.2,524.6 570.0,526.6 C573.8,528.6 576.6,530.4 579.9,531.0 C583.2,531.6 587.4,530.4 589.9,530.2 C592.4,530.0 593.0,529.4 594.8,529.6 C596.6,529.8 598.8,532.6 600.8,531.6 C602.8,530.6 604.6,526.2 606.8,523.7 C608.9,521.2 610.9,518.5 613.7,516.7 C616.5,514.9 621.0,513.1 623.7,512.7 C626.4,512.3 627.7,513.6 629.7,514.3 C631.7,515.0 633.3,515.6 635.6,516.7 C637.9,517.8 640.8,519.3 643.6,520.7 C646.4,522.1 650.0,525.0 652.5,525.2 C655.0,525.4 656.0,522.3 658.5,521.7 C661.0,521.1 664.7,521.4 667.5,521.7 C670.3,522.0 672.9,523.0 675.4,523.7 C677.9,524.4 679.4,525.8 682.4,526.0 C685.4,526.2 689.8,525.6 693.3,524.7 C696.8,523.8 700.0,522.2 703.3,520.7 C706.6,519.2 710.2,516.9 713.2,515.7 C716.2,514.5 718.5,513.7 721.2,513.3 C723.9,512.9 726.6,513.6 729.2,513.3 C731.9,513.0 734.1,512.9 737.1,511.7 C740.1,510.5 743.3,508.3 747.1,506.3 C750.9,504.3 756.1,502.2 759.9,499.8 C763.7,497.4 766.4,493.9 769.9,491.8 C773.4,489.7 777.5,487.6 780.8,487.2 C784.1,486.8 786.6,488.6 789.8,489.2 C792.9,489.8 796.4,490.5 799.7,490.8 C803.0,491.1 807.1,490.5 809.7,490.8 C812.4,491.1 813.6,491.6 815.6,492.8 C817.6,494.0 819.3,496.0 821.6,497.8 C823.9,499.6 826.6,501.8 829.6,503.8 C832.6,505.8 836.5,507.8 839.5,509.7 C842.5,511.6 844.9,513.3 847.5,515.3 C850.1,517.3 852.8,519.8 855.4,521.7 C858.0,523.6 862.1,525.8 863.4,526.6" fill="none" stroke="#bcbdc1" stroke-width="1.15" stroke-linejoin="round"/>
<path d="M0.0,487.8 C1.7,489.0 6.7,492.3 10.0,494.8 C13.3,497.3 16.6,500.3 19.9,502.8 C23.2,505.3 26.6,507.4 29.9,509.7 C33.2,512.0 36.5,514.4 39.8,516.7 C43.1,519.0 46.5,521.8 49.8,523.7 C53.1,525.6 56.4,526.9 59.7,528.2 C63.0,529.5 66.4,530.7 69.7,531.6 C73.0,532.5 76.0,533.1 79.6,533.6 C83.2,534.1 88.2,534.1 91.5,534.6 C94.8,535.1 96.5,535.4 99.5,536.6 C102.5,537.8 106.2,539.9 109.5,541.6 C112.8,543.3 116.1,545.2 119.4,546.9 C122.7,548.5 126.1,550.1 129.4,551.5 C132.7,552.9 136.0,554.3 139.3,555.5 C142.6,556.7 146.0,557.7 149.3,558.5 C152.6,559.3 155.9,559.9 159.2,560.5 C162.5,561.1 165.9,561.7 169.2,562.1 C172.5,562.5 175.8,562.9 179.1,563.1 C182.4,563.3 186.0,563.3 189.1,563.3 C192.2,563.3 194.4,563.7 197.9,563.1 C201.4,562.5 206.2,560.9 209.9,559.5 C213.6,558.1 216.5,556.3 219.8,554.5 C223.1,552.7 226.5,550.3 229.8,548.5 C233.1,546.7 236.1,544.9 239.7,543.6 C243.3,542.4 247.6,541.6 251.6,541.0 C255.6,540.4 259.6,540.2 263.6,540.0 C267.6,539.8 271.2,539.7 275.5,539.6 C279.8,539.5 285.5,539.1 289.5,539.6 C293.5,540.1 296.1,541.6 299.4,542.6 C302.7,543.6 306.1,544.6 309.4,545.5 C312.7,546.4 315.7,547.3 319.3,548.1 C322.9,548.9 327.2,549.8 331.2,550.1 C335.2,550.4 339.2,550.4 343.2,550.1 C347.2,549.8 351.1,548.7 355.1,548.1 C359.1,547.5 362.6,546.7 367.1,546.5 C371.6,546.3 377.4,546.2 381.9,546.9 C386.4,547.6 389.9,549.3 393.9,550.5 C397.9,551.7 401.8,552.9 405.8,553.9 C409.8,554.9 413.8,556.0 417.8,556.5 C421.8,557.0 425.7,557.1 429.7,556.9 C433.7,556.7 437.6,556.2 441.6,555.5 C445.6,554.8 449.6,553.6 453.6,552.5 C457.6,551.4 461.5,550.7 465.5,548.9 C469.5,547.1 473.5,544.3 477.5,541.6 C481.5,538.9 485.4,535.6 489.4,532.6 C493.4,529.6 497.3,526.1 501.3,523.7 C505.3,521.3 509.3,519.9 513.3,518.3 C517.3,516.7 521.4,515.4 525.2,514.3 C529.0,513.2 532.2,512.1 536.2,511.7 C540.2,511.3 545.3,511.4 549.1,511.7 C552.9,511.9 555.6,512.1 559.1,513.2 C562.6,514.3 566.5,516.7 570.0,518.3 C573.5,519.9 576.6,521.6 579.9,522.7 C583.2,523.9 586.4,524.6 589.9,525.2 C593.4,525.8 597.5,526.4 600.8,526.2 C604.1,526.1 606.6,525.2 609.8,524.3 C612.9,523.4 616.4,521.6 619.7,520.7 C623.0,519.8 626.4,519.4 629.7,519.1 C633.0,518.8 636.3,518.9 639.6,519.1 C642.9,519.3 646.3,519.9 649.6,520.3 C652.9,520.7 655.9,521.0 659.5,521.3 C663.1,521.6 667.4,522.0 671.4,522.3 C675.4,522.6 679.4,523.1 683.4,523.3 C687.4,523.5 691.6,523.8 695.3,523.7 C698.9,523.6 702.0,523.3 705.3,522.7 C708.6,522.1 711.9,521.0 715.2,520.3 C718.5,519.6 721.9,519.4 725.2,518.7 C728.5,518.0 731.5,517.3 735.1,516.3 C738.8,515.3 743.0,514.1 747.1,512.7 C751.2,511.3 756.1,509.5 759.9,507.9 C763.7,506.2 766.6,504.4 769.9,502.8 C773.2,501.2 776.5,499.7 779.8,498.4 C783.1,497.1 786.5,495.6 789.8,494.8 C793.1,494.0 796.4,493.8 799.7,493.4 C803.0,493.0 807.1,492.7 809.7,492.4 C812.4,492.1 813.3,491.6 815.6,491.8 C817.9,492.0 820.6,492.5 823.6,493.4 C826.6,494.3 830.2,495.8 833.5,497.2 C836.8,498.6 840.2,500.1 843.5,501.8 C846.8,503.6 850.1,505.8 853.4,507.7 C856.7,509.6 861.7,512.4 863.4,513.3" fill="none" stroke="#cfc228" stroke-width="1.15" stroke-linejoin="round"/>
<text x="999.6" y="71.39999999999999" font-size="12" fill="#a2a5ad" text-anchor="start" font-weight="normal" textLength="48.2" lengthAdjust="spacingAndGlyphs">65000.00</text>
<text x="999.6" y="128.8" font-size="12" fill="#a2a5ad" text-anchor="start" font-weight="normal" textLength="48.2" lengthAdjust="spacingAndGlyphs">60000.00</text>
<text x="999.6" y="187.29999999999998" font-size="12" fill="#a2a5ad" text-anchor="start" font-weight="normal" textLength="48.2" lengthAdjust="spacingAndGlyphs">55000.00</text>
<text x="999.6" y="244.5" font-size="12" fill="#a2a5ad" text-anchor="start" font-weight="normal" textLength="48.2" lengthAdjust="spacingAndGlyphs">50000.00</text>
<text x="999.6" y="303.20000000000005" font-size="12" fill="#a2a5ad" text-anchor="start" font-weight="normal" textLength="48.2" lengthAdjust="spacingAndGlyphs">45000.00</text>
<text x="999.6" y="418.6" font-size="12" fill="#a2a5ad" text-anchor="start" font-weight="normal" textLength="48.2" lengthAdjust="spacingAndGlyphs">35000.00</text>
<text x="1003.2" y="487.3" font-size="12" fill="#a2a5ad" text-anchor="start" font-weight="normal" textLength="41.6" lengthAdjust="spacingAndGlyphs">2000.00</text>
<text x="1013" y="520.6" font-size="12" fill="#a2a5ad" text-anchor="start" font-weight="normal" textLength="22" lengthAdjust="spacingAndGlyphs">0.00</text>
<text x="1000.7" y="553.9" font-size="12" fill="#a2a5ad" text-anchor="start" font-weight="normal" textLength="45.3" lengthAdjust="spacingAndGlyphs">-2000.00</text>
<rect x="990.2" y="348.6" width="63" height="19.2" fill="#d7424d"/>
<rect x="990.2" y="357.8" width="6" height="1.2" fill="#fff"/>
<text x="999.6" y="362.0" font-size="12" fill="#ffffff" text-anchor="start" font-weight="normal" textLength="48.2" lengthAdjust="spacingAndGlyphs">39932.28</text>
<rect x="990.8" y="428.3" width="63" height="18.6" fill="#393c47"/>
<text x="999.6" y="441.5" font-size="12" fill="#e4e6ea" text-anchor="start" font-weight="normal" textLength="48.2" lengthAdjust="spacingAndGlyphs">33059.54</text>
<text x="-3.2" y="38.4" font-size="12.6" fill="#d3d5da" text-anchor="start" font-weight="bold" font-family="'Liberation Sans','Noto Sans CJK TC',sans-serif" textLength="24.6" lengthAdjust="spacingAndGlyphs">時間</text>
<text x="21.0" y="38.3" font-size="12" fill="#dcdee3" text-anchor="start" font-weight="normal" stroke="#dcdee3" stroke-width="0.3">:</text>
<text x="23.5" y="38.3" font-size="12" fill="#dcdee3" text-anchor="start" font-weight="normal" textLength="90.2" lengthAdjust="spacingAndGlyphs" stroke="#dcdee3" stroke-width="0.4">2022-03-05 08:00</text>
<text x="119.2" y="38.4" font-size="12.6" fill="#d3d5da" text-anchor="start" font-weight="bold" font-family="'Liberation Sans','Noto Sans CJK TC',sans-serif">開</text>
<text x="132.1" y="38.3" font-size="12" fill="#dcdee3" text-anchor="start" font-weight="normal" stroke="#dcdee3" stroke-width="0.3">:</text>
<text x="134.6" y="38.3" font-size="12" fill="#1fa27c" text-anchor="start" font-weight="normal" textLength="47.7" lengthAdjust="spacingAndGlyphs">39140.68</text>
<text x="188.0" y="38.4" font-size="12.6" fill="#d3d5da" text-anchor="start" font-weight="bold" font-family="'Liberation Sans','Noto Sans CJK TC',sans-serif">高</text>
<text x="200.9" y="38.3" font-size="12" fill="#dcdee3" text-anchor="start" font-weight="normal" stroke="#dcdee3" stroke-width="0.3">:</text>
<text x="204.0" y="38.3" font-size="12" fill="#1fa27c" text-anchor="start" font-weight="normal" textLength="47.5" lengthAdjust="spacingAndGlyphs">39604.83</text>
<text x="257.0" y="38.4" font-size="12.6" fill="#d3d5da" text-anchor="start" font-weight="bold" font-family="'Liberation Sans','Noto Sans CJK TC',sans-serif">低</text>
<text x="269.9" y="38.3" font-size="12" fill="#dcdee3" text-anchor="start" font-weight="normal" stroke="#dcdee3" stroke-width="0.3">:</text>
<text x="272.90000000000003" y="38.3" font-size="12" fill="#1fa27c" text-anchor="start" font-weight="normal" textLength="47.5" lengthAdjust="spacingAndGlyphs">38568.24</text>
<text x="326.4" y="38.4" font-size="12.6" fill="#d3d5da" text-anchor="start" font-weight="bold" font-family="'Liberation Sans','Noto Sans CJK TC',sans-serif">收</text>
<text x="339.29999999999995" y="38.3" font-size="12" fill="#dcdee3" text-anchor="start" font-weight="normal" stroke="#dcdee3" stroke-width="0.3">:</text>
<text x="342.6" y="38.3" font-size="12" fill="#1fa27c" text-anchor="start" font-weight="normal" textLength="47.5" lengthAdjust="spacingAndGlyphs">39390.41</text>
<text x="395.6" y="38.4" font-size="12.6" fill="#d3d5da" text-anchor="start" font-weight="bold" font-family="'Liberation Sans','Noto Sans CJK TC',sans-serif" textLength="24.8" lengthAdjust="spacingAndGlyphs">漲幅</text>
<text x="420.9" y="38.3" font-size="12" fill="#dcdee3" text-anchor="start" font-weight="normal" stroke="#dcdee3" stroke-width="0.3">:</text>
<text x="422.90000000000003" y="38.3" font-size="12" fill="#1fa27c" text-anchor="start" font-weight="normal" textLength="74" lengthAdjust="spacingAndGlyphs">0.64%(249.73)</text>
<text x="502.8" y="38.4" font-size="12.6" fill="#d3d5da" text-anchor="start" font-weight="bold" font-family="'Liberation Sans','Noto Sans CJK TC',sans-serif" textLength="24.8" lengthAdjust="spacingAndGlyphs">振幅</text>
<text x="528.1" y="38.3" font-size="12" fill="#dcdee3" text-anchor="start" font-weight="normal" stroke="#dcdee3" stroke-width="0.3">:</text>
<text x="530.3000000000001" y="38.3" font-size="12" fill="#1fa27c" text-anchor="start" font-weight="normal" textLength="29.8" lengthAdjust="spacingAndGlyphs">2.65%</text>
<path d="M-2,52.5 H4.2 M0.2,50.6 l-1.8,1.9 l1.8,1.9" stroke="#b4b6bc" stroke-width="1.1" fill="none"/>
<text x="8.1" y="55.0" font-size="12" fill="#c3c5cb" text-anchor="start" font-weight="normal" textLength="48.2" lengthAdjust="spacingAndGlyphs">66338.66</text>
<path d="M405.6,440.3 H412.8 M405.6,440.3 l2.6,-2.4 M405.6,440.3 l2.6,2.4" stroke="#c0c2c8" stroke-width="1.1" fill="none"/>
<text x="416.3" y="443.2" font-size="12" fill="#c6c8ce" text-anchor="start" font-weight="normal" textLength="48.5" lengthAdjust="spacingAndGlyphs">32929.28</text>
<text x="8.6" y="474.6" font-size="12" fill="#c6c7cb" text-anchor="start" font-weight="normal" textLength="78.4" lengthAdjust="spacingAndGlyphs" stroke="#c6c7cb" stroke-width="0.45">MACD(12,26,9)</text>
<path d="M96.5,469.8 h6.8 l-3.4,4 z" fill="#c6c7cb"/>
<text x="112.4" y="474.6" font-size="12" fill="#a9abb2" text-anchor="start" font-weight="normal" textLength="42.4" lengthAdjust="spacingAndGlyphs" stroke="#a9abb2" stroke-width="0.3">DIF:2.49</text>
<text x="161" y="474.6" font-size="12" fill="#dacd2a" text-anchor="start" font-weight="normal" textLength="57.3" lengthAdjust="spacingAndGlyphs" stroke="#dacd2a" stroke-width="0.45">DEA:-93.51</text>
<text x="223.6" y="474.6" font-size="12" fill="#1fa27c" text-anchor="start" font-weight="normal" textLength="72" lengthAdjust="spacingAndGlyphs">MACD:192.00</text>
<rect x="955.3" y="29.4" width="17.8" height="16.2" fill="none" stroke="#3c4170" stroke-width="1"/>
<path d="M964.5,31.8 h5.2 v5.2 M958.6,38.6 v4.6 h4.6" fill="none" stroke="#8a8b8f" stroke-width="1"/>
<text x="702.6" y="152.2" font-size="21.6" fill="#ee1f14" text-anchor="start" font-weight="normal" font-family="'Liberation Sans','Noto Sans CJK SC',sans-serif" textLength="82.5" lengthAdjust="spacingAndGlyphs">日线预期</text>
<text x="776.7" y="439.5" font-size="22" fill="#ee1f14" text-anchor="start" font-weight="normal" textLength="133.5" lengthAdjust="spacingAndGlyphs">38000--40000</text>
<text x="902.7" y="530.2" font-size="20.9" fill="#ee1f14" text-anchor="start" font-weight="normal" font-family="'Liberation Sans','Noto Sans CJK SC',sans-serif" textLength="82.7" lengthAdjust="spacingAndGlyphs">空头减弱</text>
<ellipse cx="698.1" cy="372.5" rx="16.5" ry="20.9" fill="none" stroke="#ee1f14" stroke-width="3"/>
<ellipse cx="855.6" cy="369.7" rx="17.9" ry="17.8" fill="none" stroke="#ee1f14" stroke-width="3"/>
<ellipse cx="866.4" cy="511.3" rx="20.4" ry="24.4" fill="none" stroke="#ee1f14" stroke-width="3"/>
<rect x="0" y="0" width="1053" height="22" fill="#1c1d22"/>
<rect x="0" y="22.2" width="1053" height="1.5" fill="#060607"/>
<rect x="4" y="0" width="19" height="17.1" fill="#3a3b45"/>
<path d="M8.2,1.2 L20.4,9 L13.6,9.8 L9.2,15.6 Z" fill="none" stroke="#1e84e0" stroke-width="1.5" stroke-linejoin="round"/>
<path d="M27.4,17.1 h4.6 v-4.6 z" fill="#8d8e91"/>
<path d="M66.3,17.1 h4.6 v-4.6 z" fill="#8d8e91"/>
<path d="M105.4,17.1 h4.6 v-4.6 z" fill="#8d8e91"/>
<path d="M144.2,17.1 h4.6 v-4.6 z" fill="#8d8e91"/>
<path d="M183,17.1 h4.6 v-4.6 z" fill="#8d8e91"/>
<path d="M221.9,17.1 h4.6 v-4.6 z" fill="#8d8e91"/>
<path d="M260.8,17.1 h4.6 v-4.6 z" fill="#8d8e91"/>
<path d="M43.9,7.2 H60.3 M43.9,4.6 V9.8 M60.3,4.6 V9.8" fill="none" stroke="#9b9ca0" stroke-width="1.25"/>
<path d="M83.8,10.2 L93.4,0.4 M86.4,15.1 L98.8,2.7 M87.2,4.0 l2.6,2.6 M89.9,8.6 l2.6,2.6 M92.9,5.9 l2.6,2.6 M93.1,13.3 l3.8,-3.8" fill="none" stroke="#9b9ca0" stroke-width="1.25"/>
<path d="M123.6,1.2 V13.9 H136.6 Z" fill="none" stroke="#9b9ca0" stroke-width="1.25" stroke-linejoin="round"/>
<path d="M161.2,2.3 H176.8 M161.2,7.2 H176.8 M161.2,12 H176.8" fill="none" stroke="#9b9ca0" stroke-width="1.25"/>
<circle cx="169" cy="2.3" r="1.3" fill="#9b9ca0"/><circle cx="169" cy="12" r="1.3" fill="#9b9ca0"/>
<path d="M199.3,12.2 L206.2,3.4 L207.9,12.5 L214.7,3.8" fill="none" stroke="#9b9ca0" stroke-width="1.25" stroke-linejoin="round"/>
<path d="M199.4,1.8 l1.2,-0.6 V8.6" fill="none" stroke="#9b9ca0" stroke-width="1"/>
<text x="212.8" y="14.2" font-size="7.5" fill="#9b9ca0" text-anchor="start" font-weight="bold">3</text>
<rect x="240.4" y="2.3" width="12.9" height="11.6" fill="none" stroke="#9b9ca0" stroke-width="1.25"/>
<circle cx="253" cy="2.2" r="1.3" fill="#9b9ca0"/><circle cx="240.3" cy="13.9" r="1.3" fill="#9b9ca0"/>
<path d="M243.4,8.7 H250.1 M246.7,4.9 V12.2" fill="none" stroke="#9b9ca0" stroke-width="1.25"/>
<text x="277.2" y="12.5" font-size="14.8" fill="#9b9ca0" text-anchor="start" font-weight="normal" textLength="17.1" lengthAdjust="spacingAndGlyphs">Aa</text>
<g transform="translate(321.1,8.4) rotate(-45)" fill="none" stroke="#a58d6c" stroke-width="1.25"><rect x="-7.1" y="-3.3" width="14.2" height="6.6"/><path d="M-3.6,-3.3 v3 M0,-3.3 v3 M3.6,-3.3 v3"/></g>
<path d="M313.4,3.8 V0.2 H319 M328.7,11.4 V15.2 H322" fill="none" stroke="#a58d6c" stroke-width="1.25"/>
<g transform="translate(355.5,7.9) rotate(-45)" fill="none" stroke="#a58d6c" stroke-width="1.25"><rect x="-6.8" y="-3.1" width="13.6" height="6.2"/><path d="M-3.6,-3.1 v3 M0,-3.1 v3 M3.6,-3.1 v3"/></g>
<path d="M348.7,6.2 A7.2,7.2 0 0 1 354.6,0.2 M363.4,8.4 A7.6,7.6 0 0 1 355.6,14.9" fill="none" stroke="#a58d6c" stroke-width="1.25"/>
<g transform="translate(390.5,7.6) rotate(-45)" fill="none" stroke="#9b9ca0" stroke-width="1.25"><rect x="-7.1" y="-3.1" width="14.2" height="6.2"/><path d="M-3.6,-3.1 v3 M0,-3.1 v3 M3.6,-3.1 v3"/></g>
<path d="M417.6,9.9 L426.7,0.5 L430.4,3.5 L420.9,13.3 H417.6 Z M424.6,2.8 L428.2,5.9" fill="none" stroke="#9b9ca0" stroke-width="1.25" stroke-linejoin="round"/>
<path d="M425.9,11.9 C427.2,9.2 428.8,9 429.6,10.8 C430.6,12.8 432.4,12.4 434.6,9.4" fill="none" stroke="#9b9ca0" stroke-width="1.25"/>
<path d="M455.3,0.6 V15.2 M461.3,2.8 V14.8 M467.5,0.6 V15.2" fill="none" stroke="#9b9ca0" stroke-width="1.25"/>
<rect x="453.6" y="2.8" width="3.4" height="10.2" fill="#1c1d22" stroke="#9b9ca0" stroke-width="1.1"/><rect x="459.6" y="5" width="3.4" height="8.2" fill="#1c1d22" stroke="#9b9ca0" stroke-width="1.1"/><rect x="465.7" y="2.8" width="3.6" height="10.2" fill="#1c1d22" stroke="#9b9ca0" stroke-width="1.1"/>
<rect x="491.5" y="5" width="10.3" height="9" fill="none" stroke="#9b9ca0" stroke-width="1.25"/><path d="M494.7,5 V1.5 H498.9 M496.6,8 V10.4" fill="none" stroke="#9b9ca0" stroke-width="1.25"/>
<path d="M527.5,2.9 H537.6 V15 L532.5,11.9 L527.5,15 Z M524.5,8.5 V0.5 H532.6" fill="none" stroke="#9b9ca0" stroke-width="1.25" stroke-linejoin="round"/>
<path d="M565.4,14.2 H559.6 V1.4 H572.6 V7.4 M562,4.8 H567.8 M562,8.1 H565.4" fill="none" stroke="#9b9ca0" stroke-width="1.25"/>
<path d="M566.2,14 L566.8,11.6 L571.6,7 L573.4,8.8 L568.6,13.6 Z" fill="none" stroke="#9b9ca0" stroke-width="1.25" stroke-linejoin="round"/>
<path d="M593.4,4 H608.6 M597.8,4 V1.4 H604.3 V4 M595.7,4 V14.7 H606.6 V4 M599.7,7.8 V11 M602.3,7.8 V11" fill="none" stroke="#9b9ca0" stroke-width="1.25"/>
</svg></body></html>
